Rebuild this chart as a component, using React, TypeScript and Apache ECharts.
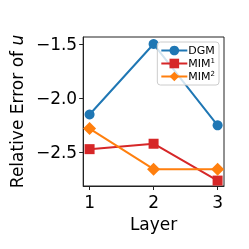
import React, { useEffect, useRef } from "react";
import * as echarts from "echarts";

const layers = [1, 2, 3];
const dgm = [-2.15, -1.5, -2.25];
const mim1 = [-2.47, -2.42, -2.76];
const mim2 = [-2.28, -2.655, -2.655];
const yTicks = [-2.5, -2.0, -1.5];
const xTicks = [1, 2, 3];

const FONT = "DejaVu Sans";

export default function App() {
  const ref = useRef<HTMLDivElement>(null);
  useEffect(() => {
    if (!ref.current) return;
    const chart = echarts.init(ref.current, undefined, { renderer: "svg" });
    const mk = (name: string, vals: number[], color: string, symbol: string, size: number) => ({
      name,
      type: "line",
      data: layers.map((l, i) => [l, vals[i]]),
      symbol,
      symbolSize: size,
      lineStyle: { color, width: 2 },
      itemStyle: { color },
      z: 3,
    });
    chart.setOption({
      animation: false,
      textStyle: { fontFamily: FONT },
      grid: { left: 75, top: 37, right: 25, bottom: 63, show: true, borderColor: "#222", borderWidth: 1 },
      legend: {
        orient: "vertical",
        right: 30,
        top: 42,
        itemWidth: 26,
        itemHeight: 12,
        itemGap: 1,
        padding: [3, 4, 3, 3],
        borderColor: "#ccc",
        borderWidth: 1,
        borderRadius: 3,
        backgroundColor: "rgba(255,255,255,0.8)",
        textStyle: {
          fontFamily: FONT,
          fontSize: 11,
          color: "#000",
          padding: [0, 0, 0, -4],
          rich: { sup: { fontSize: 7, verticalAlign: "top", padding: [0, 0, 6, 0], color: "#000", fontFamily: FONT } },
        },
        formatter: (n: string) => (n === "DGM" ? "DGM" : n.replace(/(\d)$/, "{sup|$1}")),
        data: ["DGM", "MIM1", "MIM2"],
      },
      xAxis: {
        type: "value",
        min: 0.9,
        max: 3.1,
        name: "Layer",
        nameLocation: "middle",
        nameGap: 29,
        nameTextStyle: { fontSize: 17, color: "#000", fontFamily: FONT },
        axisLine: { show: true, onZero: false, lineStyle: { color: "#222" } },
        axisTick: { show: true, length: 4, inside: false, customValues: xTicks, lineStyle: { color: "#222" } },
        axisLabel: { customValues: xTicks, fontSize: 17, color: "#000", margin: 7, fontFamily: FONT },
        splitLine: { show: false },
      },
      yAxis: {
        type: "value",
        min: -2.81,
        max: -1.435,
        name: "Relative Error of {i|u}",
        nameLocation: "middle",
        nameGap: 56,
        nameRotate: 90,
        nameTextStyle: {
          fontSize: 17,
          color: "#000",
          fontFamily: FONT,
          rich: { i: { fontSize: 17, fontStyle: "italic", color: "#000", fontFamily: FONT } },
        },
        axisLine: { show: true, onZero: false, lineStyle: { color: "#222" } },
        axisTick: { show: true, length: 4, inside: false, customValues: yTicks, lineStyle: { color: "#222" } },
        axisLabel: {
          customValues: yTicks,
          fontSize: 17,
          color: "#000",
          margin: 6,
          fontFamily: FONT,
          formatter: (v: number) => v.toFixed(1).replace("-", "\u2212"),
        },
        splitLine: { show: false },
      },
      series: [
        mk("DGM", dgm, "#1f77b4", "circle", 10),
        mk("MIM1", mim1, "#d62728", "rect", 10),
        mk("MIM2", mim2, "#ff7f0e", "diamond", 13),
      ],
    });
    return () => chart.dispose();
  }, []);
  return <div ref={ref} style={{ width: 249, height: 249, position: "fixed", left: 0, top: 0 }} />;
}
